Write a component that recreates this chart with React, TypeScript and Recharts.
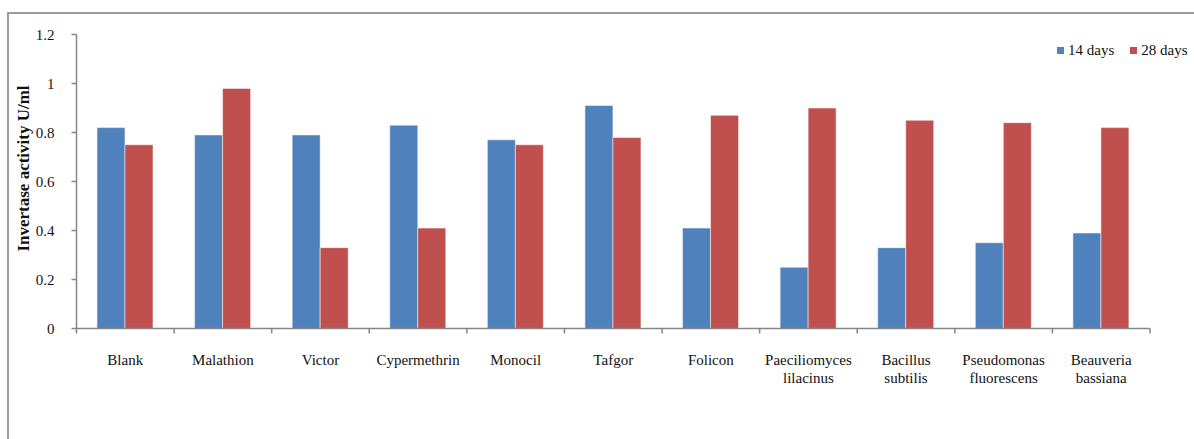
import React from "react";
import { Bar, BarChart, XAxis, YAxis } from "recharts";

const categories = [
  "Blank",
  "Malathion",
  "Victor",
  "Cypermethrin",
  "Monocil",
  "Tafgor",
  "Folicon",
  "Paeciliomyces lilacinus",
  "Bacillus subtilis",
  "Pseudomonas fluorescens",
  "Beauveria bassiana",
];
const days14 = [0.82, 0.79, 0.79, 0.83, 0.77, 0.91, 0.41, 0.25, 0.33, 0.35, 0.39];
const days28 = [0.75, 0.98, 0.33, 0.41, 0.75, 0.78, 0.87, 0.9, 0.85, 0.84, 0.82];
const yTicks = [0, 0.2, 0.4, 0.6, 0.8, 1, 1.2];

const data = categories.map((name, i) => ({ name, d14: days14[i], d28: days28[i] }));

const W = 1194;
const H = 439;
const FONT = '"Liberation Serif", "Times New Roman", serif';
const AXIS_C = "#868686";
const BLUE = "#4F81BD";
const RED = "#C0504D";
const MARGIN = { top: 34.5, right: 44, bottom: 50.5, left: 36.5 };
const Y_W = 40;
const BAND = (W - MARGIN.left - MARGIN.right - Y_W) / categories.length;

function XTick(props: any) {
  const { x, y, payload, index } = props;
  const lines = String(payload.value).split(" ");
  return (
    <g>
      <line x1={x - BAND / 2} x2={x - BAND / 2} y1={y} y2={y + 5} stroke={AXIS_C} strokeWidth={1.5} />
      {index === categories.length - 1 && (
        <line x1={x + BAND / 2} x2={x + BAND / 2} y1={y} y2={y + 5} stroke={AXIS_C} strokeWidth={1.5} />
      )}
      <text x={x} y={y} textAnchor="middle" fontFamily={FONT} fontSize={15} fill="#111">
        {lines.map((l, i) => (
          <tspan key={i} x={x} dy={i === 0 ? 36.5 : 18}>
            {l}
          </tspan>
        ))}
      </text>
    </g>
  );
}

function LegendBox() {
  const items = [
    { label: "14 days", color: BLUE },
    { label: "28 days", color: RED },
  ];
  return (
    <div
      style={{
        position: "absolute",
        left: 1057,
        top: 42,
        display: "flex",
        alignItems: "center",
        fontFamily: FONT,
        fontSize: 15,
        color: "#111",
        whiteSpace: "nowrap",
      }}
    >
      {items.map((it, i) => (
        <div key={it.label} style={{ display: "flex", alignItems: "center", marginLeft: i ? 16 : 0 }}>
          <span style={{ width: 7, height: 7, background: it.color, display: "inline-block", marginRight: 4 }} />
          <span>{it.label}</span>
        </div>
      ))}
    </div>
  );
}

export default function App() {
  return (
    <div style={{ position: "fixed", left: 0, top: 0, width: W, height: H, overflow: "hidden", background: "#fff" }}>
      <div
        style={{
          position: "absolute",
          left: 7,
          top: 12,
          width: W,
          height: H,
          borderTop: "2px solid #9a9a9a",
          borderLeft: "2px solid #9a9a9a",
        }}
      />
      <div style={{ position: "absolute", left: 0, top: 0 }}>
        <BarChart width={W} height={H} data={data} margin={MARGIN} barCategoryGap="21%" barGap={0}>
          <XAxis
            dataKey="name"
            interval={0}
            tickLine={false}
            tickSize={0}
            tickMargin={0}
            height={60}
            axisLine={{ stroke: AXIS_C, strokeWidth: 1.5 }}
            tick={<XTick />}
          />
          <YAxis
            domain={[0, 1.2]}
            ticks={yTicks}
            width={Y_W}
            tickSize={5}
            tickMargin={17}
            tickFormatter={(v: number) => String(v)}
            axisLine={{ stroke: AXIS_C, strokeWidth: 1.5 }}
            tickLine={{ stroke: AXIS_C, strokeWidth: 1.5 }}
            tick={{ fontFamily: FONT, fontSize: 15, fill: "#111" }}
            label={{
              value: "Invertase activity U/ml",
              angle: -90,
              position: "insideLeft",
              dx: -19,
              dy: -13,
              style: { fontFamily: FONT, fontSize: 17, fontWeight: "bold", fill: "#111", textAnchor: "middle" },
            }}
          />
          <Bar dataKey="d14" name="14 days" fill={BLUE} stroke="rgba(255,255,255,0.5)" strokeWidth={1} isAnimationActive={false} />
          <Bar dataKey="d28" name="28 days" fill={RED} stroke="rgba(255,255,255,0.5)" strokeWidth={1} isAnimationActive={false} />
        </BarChart>
      </div>
      <LegendBox />
    </div>
  );
}
